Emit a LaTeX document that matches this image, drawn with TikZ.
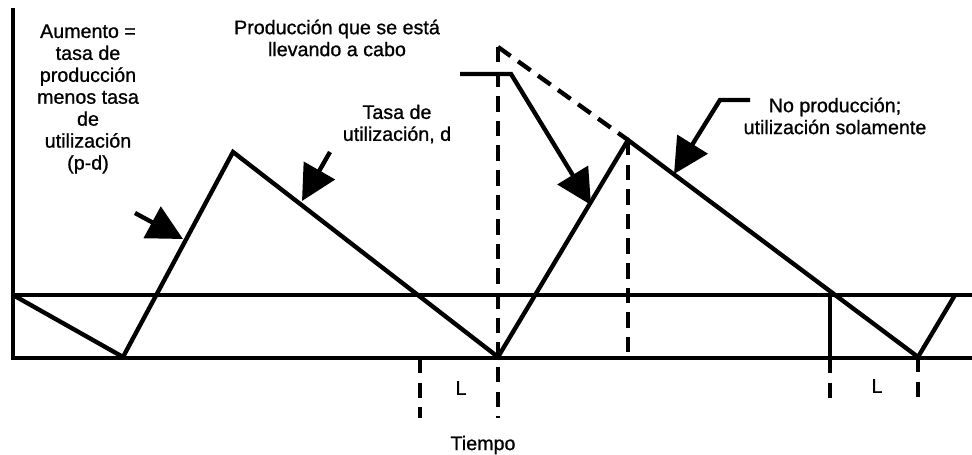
\documentclass[tikz,border=0pt]{standalone}
\usepackage{fontspec}
\setmainfont[FakeBold=0.9]{Liberation Sans}
\usetikzlibrary{arrows.meta}

\begin{document}
\begin{tikzpicture}[x=0.025cm, y=-0.025cm]
    \tikzset{curve/.style={line width=3.1pt, line join=miter}}
    \tikzset{guide/.style={line width=3.1pt, dash pattern=on 11pt off 6.5pt}}
    \tikzset{pointer/.style={line width=3.1pt, -{Triangle[length=25pt, width=25pt]}}}
    \tikzset{txt/.style={font=\fontsize{14}{15.6}\selectfont, align=center, inner sep=0pt}}

    \useasboundingbox (0,0) rectangle (972,454);

    % ── EJES ─────────────────────────────────────────────
    \coordinate (top) at (13,8);
    \coordinate (orig) at (13,358);
    \coordinate (xend) at (972,358);
    \coordinate (rl) at (13,295);
    \coordinate (rr) at (972,295);
    \draw[curve] (top) -- (orig) -- (xend);
    \draw[curve] (rl) -- (rr);

    % ── INVENTARIO (diente de sierra) ────────────────────
    \coordinate (a0) at (13,295);
    \coordinate (a1) at (123,357);
    \coordinate (a2) at (233,152);
    \coordinate (a3) at (498,357);
    \coordinate (a4) at (628,140);
    \coordinate (a5) at (918,357);
    \coordinate (a6) at (955,295);
    \draw[curve] (a0) -- (a1) -- (a2) -- (a3) -- (a4) -- (a5) -- (a6);

    % tope teorico
    \coordinate (p0) at (498,47);
    \draw[guide] (p0) -- (a4);

    % ── LINEAS DE TIEMPO ─────────────────────────────────
    \coordinate (t1) at (420,358);
    \coordinate (t1b) at (420,418);
    \coordinate (t2b) at (498,418);
    \coordinate (t3) at (628,358);
    \coordinate (t4) at (830,295);
    \coordinate (t4a) at (830,358);
    \coordinate (t4b) at (830,400);
    \coordinate (t5b) at (918,400);
    \draw[guide] (t1) -- (t1b);
    \draw[guide] (p0) -- (t2b);
    \draw[guide] (a4) -- (t3);
    \draw[curve] (t4) -- (t4a);
    \draw[guide] (t4a) -- (t4b);
    \draw[guide] (a5) -- (t5b);

    % ── FLECHAS ──────────────────────────────────────────
    \coordinate (f1) at (135,213);
    \coordinate (f1t) at (183,239);
    \coordinate (f2) at (330,152);
    \coordinate (f2t) at (302,201);
    \coordinate (f3a) at (460,74);
    \coordinate (f3b) at (511,74);
    \coordinate (f3t) at (591,205);
    \coordinate (f4a) at (750,100);
    \coordinate (f4b) at (720,100);
    \coordinate (f4t) at (674,174);
    \draw[pointer] (f1) -- (f1t);
    \draw[pointer] (f2) -- (f2t);
    \draw[pointer] (f3a) -- (f3b) -- (f3t);
    \draw[pointer] (f4a) -- (f4b) -- (f4t);

    % ── TEXTOS ───────────────────────────────────────────
    \node[txt] (aum) at (88,99) {Aumento =\\tasa de\\producción\\menos tasa\\de\\utilización\\(p-d)};
    \node[txt] (prod) at (337,38) {Producción que se está\\llevando a cabo};
    \node[txt] (tasa) at (397,124) {Tasa de\\utilización, d};
    \node[txt] (nop) at (835,116) {No producción;\\utilización solamente};
    \node[txt] (L1) at (461,388) {L};
    \node[txt] (L2) at (877,386) {L};
    \node[txt] (tie) at (483,445) {Tiempo};

\end{tikzpicture}
\end{document}
